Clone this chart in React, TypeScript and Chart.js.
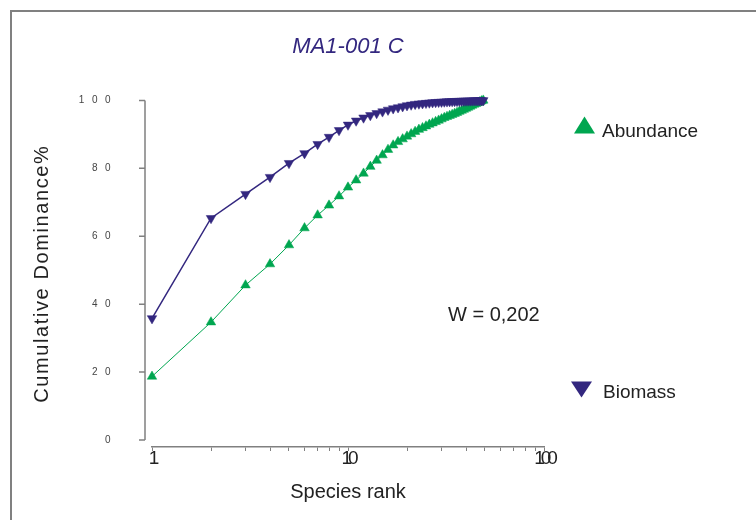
import React, { useEffect, useRef } from 'react';
import { Chart, registerables } from 'chart.js';

Chart.register(...registerables);

// ---- data ----
const ranks = [
  1, 2, 3, 4, 5, 6, 7, 8, 9, 10,
  11, 12, 13, 14, 15, 16, 17, 18, 19, 20,
  21, 22, 23, 24, 25, 26, 27, 28, 29, 30,
  31, 32, 33, 34, 35, 36, 37, 38, 39, 40,
  41, 42, 43, 44, 45, 46, 47, 48, 49,
];
const abundance = [
  18.7, 34.7, 45.6, 51.8, 57.4, 62.4, 66.2, 69.1, 71.8, 74.4,
  76.5, 78.5, 80.5, 82.3, 83.9, 85.5, 86.8, 87.8, 88.6, 89.4,
  90.1, 90.8, 91.4, 91.9, 92.4, 92.9, 93.3, 93.7, 94.1, 94.5,
  94.9, 95.2, 95.5, 95.8, 96.1, 96.4, 96.7, 97.0, 97.3, 97.6,
  97.9, 98.2, 98.5, 98.8, 99.0, 99.3, 99.5, 99.8, 100,
];
const biomass = [
  35.8, 65.3, 72.4, 77.4, 81.5, 84.4, 87.1, 89.2, 91.2, 92.8,
  94.0, 94.9, 95.6, 96.2, 96.7, 97.2, 97.6, 97.9, 98.2, 98.5,
  98.7, 98.9, 99.0, 99.1, 99.2, 99.3, 99.4, 99.45, 99.5, 99.55,
  99.6, 99.65, 99.7, 99.72, 99.75, 99.78, 99.8, 99.82, 99.85, 99.87,
  99.9, 99.91, 99.93, 99.95, 99.96, 99.97, 99.98, 99.99, 100,
];
const yTicks = [0, 20, 40, 60, 80, 100];
const xTicks = [1, 2, 3, 4, 5, 6, 7, 8, 9, 10, 20, 30, 40, 50, 60, 70, 80, 90, 100];
const xLabeled = [1, 10, 100];
const chartTitle = 'MA1-001 C';
const xTitle = 'Species rank';
const yTitle = 'Cumulative Dominance%';
const seriesNames = ['Abundance', 'Biomass'];
const wLabel = 'W = 0,202';

const GREEN = '#00a650';
const NAVY = '#33277f';
const AXIS = '#808080';
const FONT = '"Liberation Sans", Arial, sans-serif';

function patchSpacing(obj: any, method: string, spacing: string) {
  const orig = obj[method];
  if (!orig || orig.__patched) return;
  const fn = function (this: any, ...args: any[]) {
    const ctx = this.ctx;
    const prev = ctx.letterSpacing;
    ctx.letterSpacing = spacing;
    try {
      return orig.apply(this, args);
    } finally {
      ctx.letterSpacing = prev;
    }
  };
  (fn as any).__patched = true;
  obj[method] = fn;
}

function triangle(ctx: CanvasRenderingContext2D, cx: number, cy: number, w: number, h: number, up: boolean) {
  ctx.beginPath();
  if (up) {
    ctx.moveTo(cx, cy - h / 2);
    ctx.lineTo(cx + w / 2, cy + h / 2);
    ctx.lineTo(cx - w / 2, cy + h / 2);
  } else {
    ctx.moveTo(cx, cy + h / 2);
    ctx.lineTo(cx + w / 2, cy - h / 2);
    ctx.lineTo(cx - w / 2, cy - h / 2);
  }
  ctx.closePath();
  ctx.fill();
}

const decor = {
  id: 'decor',
  beforeDraw(chart: any) {
    const { ctx } = chart;
    ctx.save();
    ctx.fillStyle = '#ffffff';
    ctx.fillRect(0, 0, chart.width, chart.height);
    ctx.strokeStyle = AXIS;
    ctx.lineWidth = 2;
    ctx.strokeRect(11, 11, chart.width + 40, chart.height + 40);
    ctx.restore();
    patchSpacing(chart.scales.y, 'drawLabels', '7.5px');
    patchSpacing(chart.scales.y, 'drawTitle', '1.6px');
    patchSpacing(chart.scales.x, 'drawLabels', '-4px');
  },
  beforeDatasetsDraw(chart: any) {
    const { ctx, chartArea } = chart;
    const ys = chart.scales.y;
    const ax = chartArea.left - 7;
    const top = ys.getPixelForValue(yTicks[yTicks.length - 1]);
    const bottom = ys.getPixelForValue(yTicks[0]);
    ctx.save();
    ctx.strokeStyle = AXIS;
    ctx.lineWidth = 1.5;
    ctx.beginPath();
    ctx.moveTo(ax, top);
    ctx.lineTo(ax, bottom);
    yTicks.forEach((v) => {
      const p = ys.getPixelForValue(v);
      ctx.moveTo(ax - 6, p);
      ctx.lineTo(ax, p);
    });
    ctx.stroke();
    ctx.restore();
  },
  afterDraw(chart: any) {
    const { ctx, chartArea } = chart;
    const r = chartArea.right;
    const t = chartArea.top;
    ctx.save();
    ctx.textBaseline = 'middle';
    ctx.textAlign = 'left';
    ctx.font = `19px ${FONT}`;
    ctx.fillStyle = GREEN;
    triangle(ctx, r + 40.5, t + 24.5, 21, 17, true);
    ctx.fillStyle = NAVY;
    triangle(ctx, r + 37.5, t + 289, 21, 16, false);
    ctx.fillStyle = '#222222';
    ctx.fillText(chart.data.datasets[0].label, r + 58, t + 31);
    ctx.fillText(chart.data.datasets[1].label, r + 59, t + 292);
    ctx.font = `20px ${FONT}`;
    ctx.fillText(wLabel, chartArea.left + 296, t + 215);
    ctx.restore();
  },
};

export default function App() {
  const ref = useRef<HTMLCanvasElement>(null);
  useEffect(() => {
    document.body.style.margin = '0';
    const canvas = ref.current!;
    const chart = new Chart(canvas, {
      type: 'line',
      data: {
        datasets: [
          {
            label: seriesNames[0],
            data: ranks.map((x, i) => ({ x, y: abundance[i] })),
            borderColor: GREEN,
            backgroundColor: GREEN,
            borderWidth: 1,
            pointStyle: 'triangle',
            pointRadius: 5.5,
            pointBorderWidth: 0.5,
            pointBorderColor: GREEN,
            pointBackgroundColor: GREEN,
            clip: false,
            order: 1,
          },
          {
            label: seriesNames[1],
            data: ranks.map((x, i) => ({ x, y: biomass[i] })),
            borderColor: NAVY,
            backgroundColor: NAVY,
            borderWidth: 1.5,
            pointStyle: 'triangle',
            pointRotation: 180,
            pointRadius: 5.5,
            pointBorderWidth: 0.5,
            pointBorderColor: NAVY,
            pointBackgroundColor: NAVY,
            clip: false,
            order: 0,
          },
        ],
      },
      options: {
        responsive: false,
        animation: false,
        devicePixelRatio: 1,
        layout: { padding: { left: 0, right: 212, top: 0, bottom: 0 } },
        plugins: {
          legend: { display: false },
          tooltip: { enabled: false },
          title: {
            display: true,
            text: chartTitle,
            fullSize: false,
            color: NAVY,
            font: { family: FONT, size: 22, style: 'italic', weight: 'normal' },
            padding: { top: 34, bottom: 40 },
          },
        },
        scales: {
          x: {
            type: 'logarithmic',
            min: 1,
            max: 100,
            afterBuildTicks: (s: any) => {
              s.ticks = xTicks.map((v) => ({ value: v, major: xLabeled.includes(v) }));
            },
            afterFit: (s: any) => {
              s.height = 73;
            },
            grid: {
              display: true,
              drawOnChartArea: false,
              drawTicks: true,
              tickLength: 4,
              color: AXIS,
            },
            border: { display: true, color: AXIS, width: 1.5 },
            ticks: {
              autoSkip: false,
              maxRotation: 0,
              padding: -4,
              color: '#222222',
              font: { family: FONT, size: 19 },
              callback: (v: any) => (xLabeled.includes(Number(v)) ? String(v) : ''),
            },
            title: {
              display: true,
              text: xTitle,
              color: '#222222',
              font: { family: FONT, size: 20 },
              padding: { top: 0, bottom: 16 },
            },
          },
          y: {
            type: 'linear',
            min: -2.06,
            max: 100,
            afterBuildTicks: (s: any) => {
              s.ticks = yTicks.map((v) => ({ value: v }));
            },
            afterFit: (s: any) => {
              s.width = 152;
            },
            grid: { display: false, drawTicks: false },
            border: { display: false },
            ticks: {
              padding: 34,
              color: '#444444',
              font: { family: FONT, size: 10 },
            },
            title: {
              display: true,
              text: yTitle,
              color: '#222222',
              font: { family: FONT, size: 20 },
              padding: { top: 30, bottom: 0 },
            },
          },
        },
      },
      plugins: [decor],
    } as any);
    return () => chart.destroy();
  }, []);
  return (
    <canvas
      ref={ref}
      width={756}
      height={520}
      style={{ display: 'block', position: 'fixed', left: 0, top: 0, width: 756, height: 520 }}
    />
  );
}
